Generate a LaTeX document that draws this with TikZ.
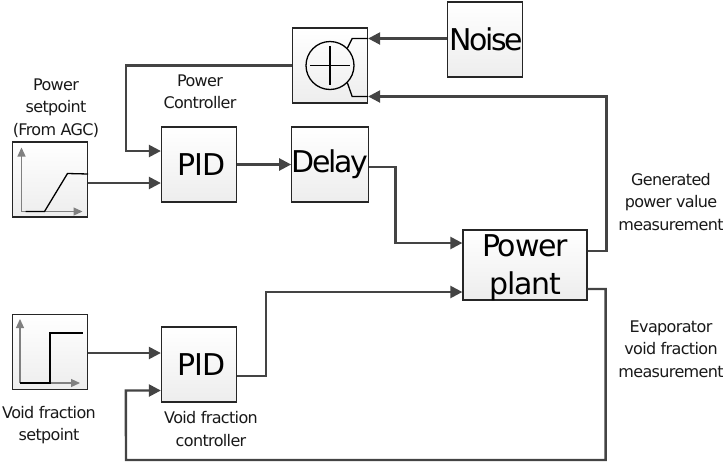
\documentclass[tikz,border=0pt]{standalone}
\usepackage{fontspec}
\setmainfont{DejaVu Sans}[LetterSpace=-4]
\usetikzlibrary{positioning, arrows.meta}

\definecolor{wirecol}{HTML}{444444}
\tikzset{
    block/.style={draw=black!85, line width=1.3pt, top color=white, bottom color=black!7, text=black, minimum size=75pt, inner sep=0pt, font=\fontsize{30}{32}\selectfont},
    tight/.style={execute at begin node=\addfontfeature{LetterSpace=-8}},
    note/.style={align=center, inner sep=0pt, text=black!90, font=\fontsize{16}{22.5}\selectfont},
    wire/.style={draw=wirecol, line width=2.4pt, -{Triangle[length=12pt, width=12pt]}},
    axis/.style={draw=black!50, line width=1.2pt, -{Triangle[length=9pt, width=8pt]}},
    signal/.style={draw=black, line width=1.3pt}
}

\begin{document}
\begin{tikzpicture}[x=1pt, y=1pt, node distance=100pt, on grid]
    \useasboundingbox (0,0) rectangle (723,-464);

    % Nodes
    \node[block] (ramp) at (50,-179.5) {};
    \node[block] (pidpower) [right=149pt of ramp, yshift=15pt] {\kern5pt PID};
    \node[block, tight] (delay) [right=131pt of pidpower] {Delay};
    \node[block] (sum) [above=99pt of delay] {};
    \node[block, tight] (noise) [right=155pt of sum, yshift=26pt] {\kern2pt Noise};
    \node[block, minimum width=124pt, minimum height=70pt, font=\fontsize{30}{38}\selectfont, align=center, text depth=-2pt] (plant) at (525,-265) {Power\\plant};
    \node[block] (step) at (50,-352) {};
    \node[block] (pidvoid) [right=149pt of step, yshift=-12.5pt] {\kern5pt PID};

    % Labels
    \node[note] (lbsetpower) at (56,-108) {Power\\setpoint\\(From AGC)};
    \node[note] (lbctlpower) at (200,-92) {Power\\Controller};
    \node[note] (lbsetvoid) at (49,-425) {Void fraction\\setpoint};
    \node[note] (lbctlvoid) at (211,-429) {Void fraction\\controller};
    \node[note] (lbgen) at (671,-202) {Generated\\power value\\measurement};
    \node[note] (lbevap) at (671,-349) {Evaporator\\void fraction\\measurement};

    % Summing junction inside its block
    \node[circle, draw=black, line width=1.3pt, minimum size=48pt, inner sep=0pt] (plus) at (sum) {};
    \draw[signal] ([xshift=5pt]plus.west) -- ([xshift=-5pt]plus.east);
    \draw[signal] ([yshift=-5pt]plus.north) -- ([yshift=5pt]plus.south);
    \draw[signal] (plus.45) -- ([xshift=-16pt,yshift=27pt]sum.east) -- ([yshift=27pt]sum.east);
    \draw[signal] (plus.-45) -- ([xshift=-16pt,yshift=-31pt]sum.east) -- ([yshift=-31pt]sum.east);

    % Ramp and step sketches
    \coordinate (rampo) at ([xshift=-28.5pt,yshift=-32pt]ramp.center);
    \draw[axis] (rampo) -- ++(0pt,64pt);
    \draw[axis] (rampo) -- ++(61pt,0pt);
    \draw[signal] ([xshift=4pt]rampo) -- ++(19pt,0pt) -- ++(23pt,38pt) -- ([yshift=5.5pt]ramp.east);
    \coordinate (stepo) at ([xshift=-30pt,yshift=-31pt]step.center);
    \draw[axis] (stepo) -- ++(0pt,64pt);
    \draw[axis] (stepo) -- ++(60pt,0pt);
    \draw[signal] (stepo) -- ++(30pt,0pt) -- ++(0pt,50pt) -- ++(33pt,0pt);

    % Connections
    \draw[wire] (sum.west) -| ([xshift=-35pt,yshift=13.5pt]pidpower.west) -- ([yshift=13.5pt]pidpower.west);
    \draw[wire] ([yshift=-3.5pt]ramp.east) -- ([yshift=-18.5pt]pidpower.west);
    \draw[wire] (pidpower.east) -- (delay.west);
    \draw[wire] ([yshift=-2.5pt]delay.east) -| ([xshift=-67pt,yshift=22pt]plant.west) -- ([yshift=22pt]plant.west);
    \draw[wire] ([yshift=1pt]noise.west) -- ([yshift=27pt]sum.east);
    \draw[wire] ([yshift=14pt]plant.east) -- ([xshift=19pt,yshift=14pt]plant.east) |- ([yshift=-31pt]sum.east);
    \draw[wire] ([yshift=-24pt]plant.east) -- ([xshift=18pt,yshift=-24pt]plant.east) |- (126,-460) -- ([xshift=-35pt,yshift=-26pt]pidvoid.west) -- ([yshift=-26pt]pidvoid.west);
    \draw[wire] ([yshift=-1pt]step.east) -- ([yshift=11.5pt]pidvoid.west);
    \draw[wire] ([yshift=-11.5pt]pidvoid.east) -- ([xshift=29pt,yshift=-11.5pt]pidvoid.east) |- ([yshift=-27pt]plant.west);

\end{tikzpicture}
\end{document}
